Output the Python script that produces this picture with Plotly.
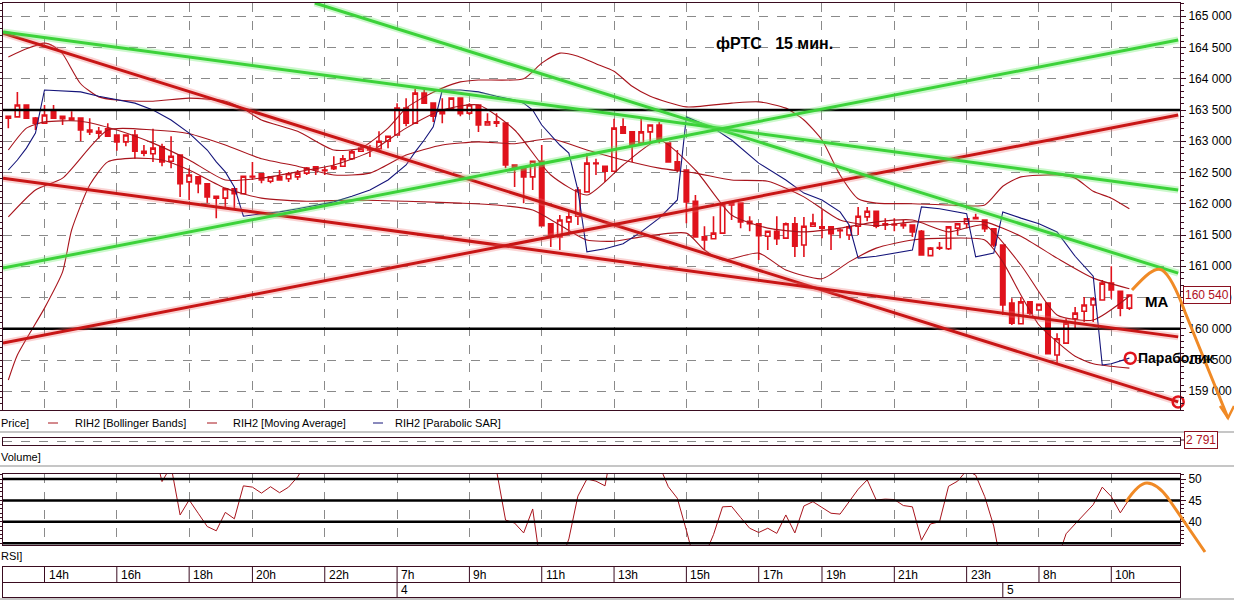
import plotly.graph_objects as go

W, H = 1234, 601

# ---------------- data ----------------
candle_idx = list(range(125))
opens = [163400,163390,163580,163370,163290,163470,163400,163340,163370,163180,
         163160,163200,163100,162990,163100,162840,162800,162910,162680,162780,
         162350,162430,162320,162120,162090,162240,162160,162440,162480,162360,
         162430,162400,162430,162490,162590,162540,162560,162600,162720,162840,
         162880,162880,163000,163100,163530,163290,163770,163610,163440,163520,
         163690,163450,163580,163260,163310,163290,162620,162560,162430,162680,
         161680,161470,161710,161800,162190,162650,162600,162520,163230,163150,
         162970,163150,163260,162970,162670,162540,162040,161470,161440,161530,
         161980,162010,161720,161680,161480,161560,161450,161680,161340,161640,
         161630,161630,161580,161500,161640,161790,161880,161680,161670,161670,
         161660,161560,161170,161300,161280,161610,161680,161780,161740,161600,
         161340,160410,160080,160430,160300,160410,159580,159770,160160,160280,
         160380,160460,160730,160600,160330]
highs = [163410,163790,163590,163390,163580,163580,163410,163480,163380,163370,
         163230,163290,163110,163100,163180,162940,163200,162960,163080,162790,
         162570,162440,162330,162130,162240,162250,162450,162670,162490,162430,
         162540,162510,162540,162590,162600,162590,162760,162780,162860,162940,
         162940,163160,163090,163610,163690,163840,163820,163620,163690,163700,
         163700,163610,163590,163450,163450,163300,162630,162570,162690,162940,
         161690,161820,161880,162270,162810,162720,162610,163360,163370,163160,
         163390,163260,163310,162980,162860,162550,162140,161640,161800,161990,
         162020,162020,161800,161690,161570,161800,161700,161790,161790,161840,
         161900,161640,161610,161660,161950,161950,161890,161770,161770,161740,
         161670,161580,161310,161390,161630,161680,161760,161840,161750,161610,
         161350,160490,160510,160440,160400,160420,159930,160170,160350,160510,
         160510,160780,161000,160610,160520]
lows = [163210,163380,163360,163180,163280,163360,163260,163330,163000,163100,
        163040,163070,162850,162920,162720,162760,162670,162600,162570,162110,
        162060,162170,162010,161770,161930,161900,162150,162380,162330,162330,
        162370,162350,162380,162460,162460,162460,162540,162600,162700,162830,
        162750,162860,162890,163090,163240,163280,163600,163310,163290,163510,
        163400,163420,163150,163250,163230,162570,162270,162010,162220,161640,
        161310,161260,161530,161660,162180,162460,162350,162510,163120,162670,
        162960,162970,162970,162660,162510,161690,161460,161260,161430,161520,
        161740,161610,161560,161100,161260,161340,161440,161150,161150,161630,
        161450,161260,161450,161420,161500,161720,161610,161580,161560,161600,
        161470,161170,161160,161260,161260,161500,161610,161750,161550,161310,
        160220,160060,160070,160220,160290,159590,159450,159760,159980,160110,
        160110,160450,160480,160200,160300]
closes = [163370,163580,163370,163290,163420,163370,163360,163370,163180,163150,
          163130,163080,162990,163100,162840,162810,162890,162670,162760,162320,
          162460,162320,162110,162090,162240,162160,162440,162430,162380,162430,
          162380,162480,162490,162570,162540,162530,162590,162720,162830,162890,
          162860,163000,163080,163530,163290,163770,163610,163400,163480,163690,
          163440,163580,163260,163310,163290,162620,162570,162430,162680,161650,
          161470,161740,161790,162220,162650,162640,162520,163210,163130,162920,
          163150,163260,163000,162670,162540,162030,161470,161420,161530,161990,
          162010,161710,161680,161490,161560,161440,161680,161320,161640,161690,
          161610,161520,161570,161630,161800,161880,161640,161660,161660,161650,
          161550,161180,161290,161290,161630,161680,161760,161760,161600,161340,
          160380,160090,160430,160250,160390,159600,159840,160090,160250,160380,
          160480,160730,160620,160330,160540]

bb_upper_idx = [0,2,4,5,6,8,10,12,16,20,24,26,28,32,36,39,42,44,46,48,50,52,57,59,61,63,65,67,69,71,
                75,80,83,86,88,90,92,94,96,100,104,108,110,112,116,118,120,122,124]
bb_upper = [164350,164480,164570,164520,164400,163920,163710,163660,163640,163690,
            163640,163520,163340,163160,162860,162890,163210,163530,163710,163850,
            163950,163980,164000,164250,164410,164360,164240,164120,163880,163720,
            163550,163610,163630,163530,163340,163020,162460,162080,162010,162000,
            161980,161980,162280,162430,162460,162410,162200,162090,161920]
bb_mid_idx = [0,3,6,11,16,20,24,28,32,36,40,44,48,52,56,60,64,68,72,76,80,84,88,92,96,100,104,108,112,116,120,124]
bb_mid = [161790,162220,162410,163180,163180,163120,162940,162720,162600,162460,
          162490,162780,162940,162990,162960,163040,162860,162700,162570,162490,
          162380,162360,162110,161740,161650,161710,161710,161710,161480,161130,
          160810,160640]
bb_lower_idx = [0,1,4,6,7,9,11,14,17,20,24,28,33,38,44,50,54,58,61,64,67,70,75,77,79,83,86,90,93,96,
                100,104,108,110,112,114,116,118,120,122,124]
bb_lower = [159180,159580,160330,160910,161580,162300,162670,162730,162700,162540,
            162250,162090,162040,162060,162040,162010,161980,161900,161660,161420,
            161400,161470,161530,161260,161100,161210,160940,160800,161070,161290,
            161420,161450,161420,161070,160540,160060,159790,159560,159440,159400,
            159370]
ma_idx = [0,2,4,8,12,16,20,24,28,32,36,40,44,48,52,56,60,64,68,72,76,80,84,88,92,96,100,104,108,112,116,120,124]
ma = [162860,163210,163310,163320,163180,162970,162700,162380,162410,162510,
      162620,162830,163210,163500,163580,163180,162460,162140,162620,163020,
      162540,161820,161610,161550,161610,161710,161740,161550,161660,161020,
      160220,160140,160520]
sar_idx = [0,1,2,3,4,6,8,10,12,14,16,18,20,22,23,24,25,26,28,30,32,34,36,38,40,42,44,45,46,47,
           48,50,52,54,56,57,58,59,60,61,62,63,64,66,68,70,72,74,75,78,80,83,86,88,90,92,93,94,96,98,
           100,101,103,106,107,109,110,112,114,116,118,120,121,122,124]
sar = [162540,162700,162890,163130,163820,163800,163790,163720,163660,163610,
       163500,163340,163130,162860,162670,162510,162270,161800,161840,161870,
       161920,161980,162030,162120,162220,162380,162620,162830,163020,163230,
       163820,163820,163790,163720,163660,163610,163500,163260,163100,162940,
       162810,162220,161230,161280,161360,161550,161770,162060,163390,163210,
       163020,162650,162380,162170,162060,161870,161660,161130,161160,161210,
       161260,161950,161920,161840,161150,161210,161870,161770,161680,161550,
       161160,160840,159420,159440,159530]

rsi = [62,64,60,58,60,58,59,57,56,57,55,56,55,54,55,57,58,49.4,53,41.6,
       45.1,42.0,38.9,37.9,42.2,40.7,48.4,48.1,46.7,48.2,46.8,48.1,50.5,54,57,58,60,62,64,63,
       66,67,68,72,70,74,72,66,67,68,66,64,62,60,52,40.4,39.7,37.4,43.0,28,
       25,30,36,46,50,49.5,48.4,60,63,60,62,58,53.2,48.2,45.5,38,30,32,37,43.5,
       43.6,41,38.5,37.5,38.5,37.3,41.6,37.4,43.7,44.7,43.3,42,41.8,44.7,47.6,49.8,45.1,45.3,45.2,43.8,
       43.5,35.7,39.5,40,48.3,49.5,52,50.9,45.9,39,28,25,22,24,26,28,31,37.2,39.5,41.8,
       44,48.1,45.9,42.1,45.3]
rsi_levels = [50, 45, 40, 35]

tick_idx = [4, 12, 20, 27, 35, 43, 51, 59, 67, 75, 83, 90, 98, 106, 114, 122]
tick_labels = ["14h", "16h", "18h", "20h", "22h", "7h", "9h", "11h", "13h", "15h",
               "17h", "19h", "21h", "23h", "8h", "10h"]
day_idx = [43, 110]
day_labels = ["4", "5"]

price_levels = [163500, 160000]
green_1_x, green_1_y = [33.9, 129.4], [165212, 160890]
green_2_x, green_2_y = [-0.59, 129.4], [164750, 162220]
green_3_x, green_3_y = [-0.59, 129.4], [160970, 164620]
red_1_x, red_1_y = [-0.59, 129.4], [164730, 158830]
red_2_x, red_2_y = [-0.59, 129.4], [162410, 159870]
red_3_x, red_3_y = [-0.59, 129.4], [159770, 163420]
circle_x = [129.7, 124.1, 129.4]
circle_y = [160000, 159530, 158830]
last_price = 160540
last_volume = 2791

# ---------------- styling ----------------
FONT = "Liberation Sans, Arial, sans-serif"
DARK = "#3a0c20"
GRID = "#8a8a8a"
CANDLE = "#e0121c"
THIN = "#a8141c"
NAVY = "#14147a"
GREEN = "#3cd23a"
TRED = "#c81616"
ORANGE = "#f08a26"
X_RANGE = [-0.59, 129.6]


def px(x):
    return x / W


def py(y):
    return 1 - y / H


fig = go.Figure()

fig.add_trace(go.Candlestick(
    x=candle_idx, open=opens, high=highs, low=lows, close=closes,
    increasing=dict(line=dict(color=CANDLE, width=1.6), fillcolor="white"),
    decreasing=dict(line=dict(color=CANDLE, width=1.6), fillcolor=CANDLE),
    whiskerwidth=0, hoverinfo="skip", showlegend=False, xaxis="x", yaxis="y"))

for xs, ys in [(bb_upper_idx, bb_upper), (bb_mid_idx, bb_mid), (bb_lower_idx, bb_lower), (ma_idx, ma)]:
    fig.add_trace(go.Scatter(x=xs, y=ys, mode="lines",
                             line=dict(color=THIN, width=1.1, shape="spline", smoothing=0.6),
                             hoverinfo="skip", showlegend=False))
fig.add_trace(go.Scatter(x=sar_idx, y=sar, mode="lines", line=dict(color=NAVY, width=1.1),
                         hoverinfo="skip", showlegend=False))

for lv in price_levels:
    fig.add_trace(go.Scatter(x=X_RANGE, y=[lv, lv], mode="lines",
                             line=dict(color="black", width=2.5), hoverinfo="skip", showlegend=False))

for xs, ys, col, glow in [
    (red_1_x, red_1_y, TRED, "rgba(240,110,110,0.30)"),
    (red_2_x, red_2_y, TRED, "rgba(240,110,110,0.30)"),
    (red_3_x, red_3_y, TRED, "rgba(240,110,110,0.30)"),
    (green_1_x, green_1_y, GREEN, "rgba(110,235,110,0.35)"),
    (green_2_x, green_2_y, GREEN, "rgba(110,235,110,0.35)"),
    (green_3_x, green_3_y, GREEN, "rgba(110,235,110,0.35)"),
]:
    fig.add_trace(go.Scatter(x=xs, y=ys, mode="lines", line=dict(color=glow, width=7),
                             hoverinfo="skip", showlegend=False))
    fig.add_trace(go.Scatter(x=xs, y=ys, mode="lines", line=dict(color=col, width=3),
                             hoverinfo="skip", showlegend=False))

fig.add_trace(go.Scatter(x=circle_x, y=circle_y, mode="markers", cliponaxis=False,
                         marker=dict(symbol="circle-open", size=11, color="#e0141c",
                                     line=dict(width=2.5, color="#e0141c")),
                         hoverinfo="skip", showlegend=False))

# RSI panel
fig.add_trace(go.Scatter(x=candle_idx, y=rsi, mode="lines", line=dict(color=THIN, width=1),
                         xaxis="x2", yaxis="y2", hoverinfo="skip", showlegend=False))
for lv in rsi_levels:
    fig.add_trace(go.Scatter(x=X_RANGE, y=[lv, lv], mode="lines", line=dict(color="black", width=2.5),
                             xaxis="x2", yaxis="y2", hoverinfo="skip", showlegend=False))

# dummy traces for volume and time-table subplots
fig.add_trace(go.Scatter(x=[X_RANGE[0]], y=[-1], mode="markers", marker=dict(opacity=0),
                         xaxis="x3", yaxis="y3", hoverinfo="skip", showlegend=False))
fig.add_trace(go.Scatter(x=[X_RANGE[0]], y=[-1], mode="markers", marker=dict(opacity=0),
                         xaxis="x4", yaxis="y4", hoverinfo="skip", showlegend=False))

frame = dict(showline=True, linecolor=DARK, linewidth=1, mirror=True, zeroline=False,
             fixedrange=True, automargin=False)
xgrid = dict(tickmode="array", tickvals=tick_idx, showticklabels=False, ticks="",
             showgrid=True, gridcolor=GRID, griddash="dash", gridwidth=1)
dom_x = [px(3), px(1180)]

fig.update_layout(
    template="none",
    width=W, height=H, margin=dict(l=0, r=0, t=0, b=0, autoexpand=False),
    paper_bgcolor="white", plot_bgcolor="white", showlegend=False,
    separators=". ", font=dict(family=FONT, size=12, color="black"),
    xaxis=dict(domain=dom_x, range=X_RANGE, anchor="y", rangeslider=dict(visible=False), **xgrid, **frame),
    yaxis=dict(domain=[py(410), py(3)], range=[158700, 165212], anchor="x", side="right",
               tickmode="linear", tick0=0, dtick=500, tickformat=",d",
               ticks="outside", ticklen=5, tickcolor=DARK,
               minor=dict(tick0=0, dtick=100, ticks="outside", ticklen=3, tickcolor=DARK, showgrid=False),
               showgrid=True, gridcolor=GRID, griddash="dash", gridwidth=1,
               tickfont=dict(size=12), showline=True, linecolor=DARK, linewidth=1,
               mirror="ticks", zeroline=False, fixedrange=True, automargin=False),
    xaxis2=dict(domain=dom_x, range=X_RANGE, anchor="y2", **xgrid, **frame),
    yaxis2=dict(domain=[py(545), py(474)], range=[34.58, 51.17], anchor="x2", side="right",
                tickmode="array", tickvals=[40, 45, 50], ticks="outside", ticklen=5, tickcolor=DARK,
                minor=dict(tick0=0, dtick=1, ticks="outside", ticklen=3, tickcolor=DARK, showgrid=False),
                showgrid=False, tickfont=dict(size=12), showline=True, linecolor=DARK, linewidth=1,
                mirror="ticks", zeroline=False, fixedrange=True, automargin=False),
    xaxis3=dict(domain=dom_x, range=X_RANGE, anchor="y3", showticklabels=False, ticks="", showgrid=False, **frame),
    yaxis3=dict(domain=[py(445), py(438)], range=[0, 1], anchor="x3", tickmode="array", tickvals=[0.5],
                showticklabels=False, ticks="", showgrid=True, gridcolor=GRID, griddash="dash", **frame),
    xaxis4=dict(domain=dom_x, range=X_RANGE, anchor="y4", showticklabels=False, ticks="", showgrid=False, **frame),
    yaxis4=dict(domain=[py(597), py(567)], range=[0, 2], anchor="x4", tickmode="array", tickvals=[1],
                showticklabels=False, ticks="", showgrid=True, gridcolor=DARK, gridwidth=1, **frame),
)

shapes = []
annotations = []

# time table cells
for t, lab in zip(tick_idx, tick_labels):
    shapes.append(dict(type="line", xref="x4", yref="y4", x0=t, x1=t, y0=1, y1=2,
                       line=dict(color=DARK, width=1)))
    annotations.append(dict(xref="x4", yref="y4", x=t, y=1.5, xanchor="left", yanchor="middle",
                            xshift=2, text=lab, showarrow=False, font=dict(size=12)))
for t, lab in zip(day_idx, day_labels):
    shapes.append(dict(type="line", xref="x4", yref="y4", x0=t, x1=t, y0=0, y1=1,
                       line=dict(color=DARK, width=1)))
    annotations.append(dict(xref="x4", yref="y4", x=t, y=0.5, xanchor="left", yanchor="middle",
                            xshift=2, text=lab, showarrow=False, font=dict(size=12)))

# gray panel separators
for yy in [432, 466, 599]:
    shapes.append(dict(type="line", xref="paper", yref="paper", x0=0, x1=1, y0=py(yy), y1=py(yy),
                       line=dict(color="#c6c6c6", width=2)))

# legend row
for x0, col in [(48, THIN), (207, THIN), (373, NAVY)]:
    shapes.append(dict(type="line", xref="paper", yref="paper", x0=px(x0), x1=px(x0 + 10),
                       y0=py(423), y1=py(423), line=dict(color=col, width=1)))
for x0, txt in [(-1, "Price]"), (73, "RIH2 [Bollinger Bands]"), (231, "RIH2 [Moving Average]"),
                (393, "RIH2 [Parabolic SAR]"), (-1, "Volume]"), (-1, "RSI]")]:
    yy = {"Volume]": 457, "RSI]": 556}.get(txt, 423)
    annotations.append(dict(xref="paper", yref="paper", x=px(x0), y=py(yy), xanchor="left",
                            yanchor="middle", text=txt, showarrow=False, font=dict(size=11)))

# value boxes
annotations.append(dict(xref="paper", yref="y", x=px(1183), y=last_price, xanchor="left", yanchor="middle",
                        text=f"{last_price:,}".replace(",", " "), showarrow=False,
                        font=dict(size=12, color="#b0101c"), bgcolor="white",
                        bordercolor="#8a1020", borderwidth=1, borderpad=1))
annotations.append(dict(xref="paper", yref="paper", x=px(1184), y=py(440), xanchor="left", yanchor="middle",
                        text=f"{last_volume:,}".replace(",", " "), showarrow=False,
                        font=dict(size=12, color="#b0101c"), bgcolor="white",
                        bordercolor="#8a1020", borderwidth=1, borderpad=1))
shapes.append(dict(type="line", xref="paper", yref="paper", x0=px(1180), x1=px(1184),
                   y0=py(440), y1=py(440), line=dict(color=DARK, width=1)))

# hand-written notes
annotations.append(dict(xref="paper", yref="paper", x=px(774), y=py(33), text="<b>фРТС\u00a0\u00a0\u00a015 мин.</b>",
                        showarrow=False, font=dict(size=16, color="black")))
annotations.append(dict(xref="paper", yref="paper", x=px(1143), y=py(301), xanchor="left", text="<b>MA</b>",
                        showarrow=False, font=dict(size=15, color="black")))
annotations.append(dict(xref="paper", yref="paper", x=px(1136), y=py(358), xanchor="left", text="<b>Параболик</b>",
                        showarrow=False, font=dict(size=14, color="black")))


def path(cmds):
    out = []
    for c in cmds:
        if isinstance(c, str):
            out.append(c)
        else:
            out.append(f"{px(c[0]):.5f},{py(c[1]):.5f}")
    return " ".join(out)


shapes.append(dict(type="path", xref="paper", yref="paper",
                   path=path(["M", (1132, 290), "C", (1145, 276), (1155, 266), (1162, 270),
                              "C", (1170, 275), (1178, 293), (1185, 312), "L", (1228, 418)]),
                   line=dict(color=ORANGE, width=3)))
shapes.append(dict(type="path", xref="paper", yref="paper",
                   path=path(["M", (1220, 406), "L", (1228, 418), "L", (1234, 406)]),
                   line=dict(color=ORANGE, width=2.5)))
shapes.append(dict(type="path", xref="paper", yref="paper",
                   path=path(["M", (1126, 502), "C", (1134, 490), (1141, 483), (1147, 483),
                              "C", (1155, 483), (1162, 490), (1168, 498), "L", (1205, 552)]),
                   line=dict(color=ORANGE, width=3)))

fig.update_layout(shapes=shapes, annotations=annotations)

fig.write_html("out.html", config={"displayModeBar": False, "staticPlot": True},
               post_script="document.body.style.margin='0';document.body.style.overflow='hidden';")
